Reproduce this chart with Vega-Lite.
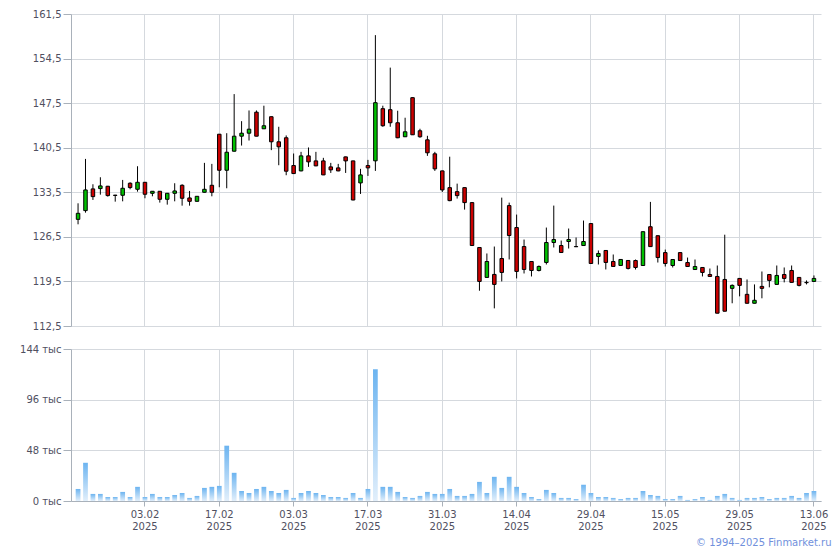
{
  "$schema": "https://vega.github.io/schema/vega-lite/v6.json",
  "background": "white",
  "padding": {"left": 19, "top": 9, "right": 5, "bottom": 5},
  "bounds": "flush",
  "spacing": 23,
  "config": {
    "font": "DejaVu Sans",
    "view": {"stroke": null},
    "axis": {
      "labelFont": "DejaVu Sans",
      "labelFontSize": 10,
      "labelColor": "#50505f",
      "gridColor": "#d5d9de",
      "gridWidth": 1,
      "domainColor": "#a9b1ba",
      "tickColor": "#a9b1ba",
      "title": null
    },
    "axisY": {"tickSize": 8, "labelPadding": 2}
  },
  "data": {
    "values": [
      {"d": "2025-01-21", "o": 129.25, "h": 131.77, "l": 128.47, "c": 130.2, "v": 11.4},
      {"d": "2025-01-22", "o": 130.62, "h": 138.74, "l": 130.3, "c": 133.87, "v": 36.2},
      {"d": "2025-01-23", "o": 134.03, "h": 134.76, "l": 132.3, "c": 132.82, "v": 6.7},
      {"d": "2025-01-24", "o": 134.08, "h": 135.86, "l": 133.13, "c": 134.5, "v": 6.7},
      {"d": "2025-01-27", "o": 134.45, "h": 134.5, "l": 132.82, "c": 132.98, "v": 3.8},
      {"d": "2025-01-28", "o": 133.05, "h": 133.1, "l": 132.03, "c": 133.0, "v": 3.8},
      {"d": "2025-01-29", "o": 133.03, "h": 135.44, "l": 132.08, "c": 134.13, "v": 8.6},
      {"d": "2025-01-30", "o": 134.92, "h": 135.07, "l": 133.97, "c": 134.24, "v": 3.8},
      {"d": "2025-01-31", "o": 133.97, "h": 137.59, "l": 133.6, "c": 135.07, "v": 13.4},
      {"d": "2025-02-03", "o": 135.07, "h": 135.1, "l": 132.56, "c": 133.19, "v": 3.8},
      {"d": "2025-02-04", "o": 133.34, "h": 133.7, "l": 132.87, "c": 133.66, "v": 6.7},
      {"d": "2025-02-05", "o": 133.66, "h": 133.7, "l": 131.88, "c": 132.4, "v": 3.8},
      {"d": "2025-02-06", "o": 132.4, "h": 133.4, "l": 131.56, "c": 133.34, "v": 3.8},
      {"d": "2025-02-07", "o": 133.34, "h": 134.92, "l": 132.08, "c": 133.71, "v": 5.7},
      {"d": "2025-02-10", "o": 134.6, "h": 134.76, "l": 131.4, "c": 132.56, "v": 7.6},
      {"d": "2025-02-11", "o": 132.61, "h": 133.71, "l": 131.4, "c": 132.08, "v": 2.9},
      {"d": "2025-02-12", "o": 132.08, "h": 132.9, "l": 132.05, "c": 132.87, "v": 4.8},
      {"d": "2025-02-13", "o": 133.5, "h": 138.12, "l": 133.45, "c": 133.97, "v": 12.4},
      {"d": "2025-02-14", "o": 134.6, "h": 137.96, "l": 132.87, "c": 133.5, "v": 13.4},
      {"d": "2025-02-17", "o": 142.62, "h": 142.65, "l": 134.29, "c": 136.96, "v": 14.3},
      {"d": "2025-02-18", "o": 136.96, "h": 142.78, "l": 134.13, "c": 139.79, "v": 52.4},
      {"d": "2025-02-19", "o": 139.95, "h": 148.92, "l": 139.9, "c": 142.31, "v": 26.7},
      {"d": "2025-02-20", "o": 142.31, "h": 144.67, "l": 140.84, "c": 142.78, "v": 9.5},
      {"d": "2025-02-21", "o": 142.78, "h": 146.35, "l": 141.63, "c": 143.41, "v": 7.6},
      {"d": "2025-02-24", "o": 146.08, "h": 146.35, "l": 142.3, "c": 142.31, "v": 11.4},
      {"d": "2025-02-25", "o": 143.47, "h": 147.1, "l": 143.45, "c": 143.95, "v": 13.4},
      {"d": "2025-02-26", "o": 145.37, "h": 145.4, "l": 140.12, "c": 141.43, "v": 9.5},
      {"d": "2025-02-27", "o": 141.43, "h": 143.79, "l": 137.75, "c": 140.64, "v": 7.6},
      {"d": "2025-02-28", "o": 142.06, "h": 142.43, "l": 136.18, "c": 136.81, "v": 10.5},
      {"d": "2025-03-03", "o": 137.7, "h": 139.59, "l": 136.4, "c": 136.44, "v": 2.9},
      {"d": "2025-03-04", "o": 136.86, "h": 139.85, "l": 136.8, "c": 139.22, "v": 7.6},
      {"d": "2025-03-05", "o": 139.22, "h": 140.54, "l": 137.49, "c": 138.28, "v": 9.5},
      {"d": "2025-03-06", "o": 138.43, "h": 139.85, "l": 137.6, "c": 137.65, "v": 7.6},
      {"d": "2025-03-07", "o": 138.43, "h": 138.91, "l": 136.2, "c": 136.23, "v": 5.7},
      {"d": "2025-03-10", "o": 137.49, "h": 138.12, "l": 136.54, "c": 137.02, "v": 3.8},
      {"d": "2025-03-11", "o": 137.33, "h": 137.96, "l": 136.8, "c": 136.86, "v": 3.8},
      {"d": "2025-03-12", "o": 139.06, "h": 139.1, "l": 136.54, "c": 138.43, "v": 2.9},
      {"d": "2025-03-13", "o": 138.43, "h": 138.45, "l": 132.25, "c": 132.29, "v": 7.6},
      {"d": "2025-03-14", "o": 134.97, "h": 137.18, "l": 133.24, "c": 136.23, "v": 2.9},
      {"d": "2025-03-17", "o": 137.7, "h": 138.59, "l": 136.07, "c": 137.33, "v": 11.4},
      {"d": "2025-03-18", "o": 138.44, "h": 158.18, "l": 136.86, "c": 147.57, "v": 124.9},
      {"d": "2025-03-19", "o": 146.63, "h": 147.1, "l": 143.79, "c": 143.95, "v": 13.4},
      {"d": "2025-03-20", "o": 146.47, "h": 153.08, "l": 143.79, "c": 144.42, "v": 13.4},
      {"d": "2025-03-21", "o": 144.42, "h": 146.31, "l": 142.0, "c": 142.06, "v": 8.6},
      {"d": "2025-03-24", "o": 142.22, "h": 145.21, "l": 142.2, "c": 143.0, "v": 3.8},
      {"d": "2025-03-25", "o": 148.36, "h": 148.4, "l": 142.5, "c": 142.53, "v": 2.9},
      {"d": "2025-03-26", "o": 143.16, "h": 143.48, "l": 142.06, "c": 142.22, "v": 4.8},
      {"d": "2025-03-27", "o": 141.74, "h": 142.37, "l": 139.22, "c": 139.7, "v": 8.6},
      {"d": "2025-03-28", "o": 139.54, "h": 139.85, "l": 136.86, "c": 137.18, "v": 6.7},
      {"d": "2025-03-31", "o": 136.86, "h": 136.9, "l": 133.55, "c": 133.87, "v": 6.7},
      {"d": "2025-04-01", "o": 134.23, "h": 139.09, "l": 132.1, "c": 132.19, "v": 11.4},
      {"d": "2025-04-02", "o": 133.6, "h": 134.86, "l": 132.51, "c": 132.98, "v": 4.8},
      {"d": "2025-04-03", "o": 134.23, "h": 134.25, "l": 130.78, "c": 131.88, "v": 4.8},
      {"d": "2025-04-04", "o": 131.88, "h": 131.9, "l": 125.1, "c": 125.14, "v": 6.7},
      {"d": "2025-04-07", "o": 124.83, "h": 124.85, "l": 118.04, "c": 119.5, "v": 18.1},
      {"d": "2025-04-08", "o": 120.13, "h": 123.89, "l": 120.1, "c": 122.63, "v": 7.6},
      {"d": "2025-04-09", "o": 120.6, "h": 124.98, "l": 115.27, "c": 119.03, "v": 22.9},
      {"d": "2025-04-10", "o": 123.1, "h": 132.66, "l": 119.5, "c": 120.91, "v": 12.4},
      {"d": "2025-04-11", "o": 131.41, "h": 131.88, "l": 122.95, "c": 126.71, "v": 22.9},
      {"d": "2025-04-14", "o": 127.96, "h": 130.0, "l": 119.97, "c": 121.07, "v": 13.4},
      {"d": "2025-04-15", "o": 124.98, "h": 126.08, "l": 120.75, "c": 121.38, "v": 7.6},
      {"d": "2025-04-16", "o": 122.63, "h": 122.65, "l": 120.28, "c": 121.22, "v": 3.8},
      {"d": "2025-04-17", "o": 121.22, "h": 122.0, "l": 121.07, "c": 121.85, "v": 1.9},
      {"d": "2025-04-18", "o": 122.48, "h": 127.96, "l": 122.16, "c": 125.61, "v": 10.5},
      {"d": "2025-04-21", "o": 125.61, "h": 131.41, "l": 124.83, "c": 126.08, "v": 7.6},
      {"d": "2025-04-22", "o": 125.14, "h": 125.92, "l": 124.0, "c": 124.04, "v": 2.9},
      {"d": "2025-04-23", "o": 125.77, "h": 127.81, "l": 124.67, "c": 126.08, "v": 2.9},
      {"d": "2025-04-24", "o": 124.98, "h": 126.4, "l": 124.9, "c": 124.95, "v": 1.9},
      {"d": "2025-04-25", "o": 125.14, "h": 129.06, "l": 125.1, "c": 125.77, "v": 15.3},
      {"d": "2025-04-29", "o": 128.59, "h": 128.6, "l": 122.3, "c": 122.32, "v": 7.6},
      {"d": "2025-04-30", "o": 123.42, "h": 124.36, "l": 122.16, "c": 123.89, "v": 3.8},
      {"d": "2025-05-02", "o": 124.36, "h": 124.4, "l": 121.38, "c": 122.48, "v": 3.8},
      {"d": "2025-05-05", "o": 122.63, "h": 123.73, "l": 121.8, "c": 121.85, "v": 2.9},
      {"d": "2025-05-06", "o": 122.01, "h": 123.0, "l": 121.95, "c": 122.95, "v": 1.9},
      {"d": "2025-05-07", "o": 122.79, "h": 122.8, "l": 121.38, "c": 121.54, "v": 2.9},
      {"d": "2025-05-08", "o": 122.78, "h": 122.94, "l": 121.37, "c": 121.69, "v": 2.9},
      {"d": "2025-05-12", "o": 122.0, "h": 127.35, "l": 121.95, "c": 127.31, "v": 9.5},
      {"d": "2025-05-13", "o": 128.09, "h": 131.99, "l": 124.95, "c": 124.97, "v": 5.7},
      {"d": "2025-05-14", "o": 126.68, "h": 126.7, "l": 122.47, "c": 123.25, "v": 4.8},
      {"d": "2025-05-15", "o": 124.03, "h": 124.5, "l": 121.84, "c": 122.31, "v": 1.9},
      {"d": "2025-05-16", "o": 122.0, "h": 123.0, "l": 121.69, "c": 122.94, "v": 1.9},
      {"d": "2025-05-19", "o": 124.03, "h": 124.05, "l": 122.75, "c": 122.78, "v": 4.8},
      {"d": "2025-05-20", "o": 122.47, "h": 123.25, "l": 121.8, "c": 121.84, "v": 1.0},
      {"d": "2025-05-21", "o": 121.37, "h": 122.94, "l": 121.35, "c": 121.84, "v": 1.9},
      {"d": "2025-05-22", "o": 121.69, "h": 121.7, "l": 120.28, "c": 120.91, "v": 3.8},
      {"d": "2025-05-23", "o": 120.59, "h": 121.53, "l": 120.25, "c": 120.28, "v": 1.0},
      {"d": "2025-05-26", "o": 120.28, "h": 122.0, "l": 114.5, "c": 114.51, "v": 4.8},
      {"d": "2025-05-27", "o": 119.81, "h": 126.84, "l": 114.8, "c": 114.82, "v": 6.7},
      {"d": "2025-05-28", "o": 118.41, "h": 119.03, "l": 116.07, "c": 118.88, "v": 2.9},
      {"d": "2025-05-29", "o": 119.97, "h": 120.0, "l": 117.16, "c": 118.88, "v": 1.0},
      {"d": "2025-05-30", "o": 117.47, "h": 119.81, "l": 116.05, "c": 116.07, "v": 2.9},
      {"d": "2025-06-02", "o": 116.07, "h": 119.03, "l": 116.05, "c": 116.54, "v": 2.9},
      {"d": "2025-06-03", "o": 118.72, "h": 121.06, "l": 116.85, "c": 118.41, "v": 3.8},
      {"d": "2025-06-04", "o": 120.59, "h": 120.6, "l": 118.57, "c": 119.66, "v": 1.9},
      {"d": "2025-06-05", "o": 119.03, "h": 122.0, "l": 119.0, "c": 120.44, "v": 2.9},
      {"d": "2025-06-06", "o": 120.59, "h": 121.69, "l": 119.35, "c": 119.97, "v": 2.9},
      {"d": "2025-06-09", "o": 121.22, "h": 122.0, "l": 119.3, "c": 119.35, "v": 4.8},
      {"d": "2025-06-10", "o": 120.13, "h": 120.15, "l": 118.72, "c": 118.88, "v": 2.9},
      {"d": "2025-06-11", "o": 119.35, "h": 119.66, "l": 119.03, "c": 119.3, "v": 7.6},
      {"d": "2025-06-13", "o": 119.5, "h": 120.44, "l": 119.45, "c": 119.97, "v": 9.5}
    ]
  },
  "vconcat": [
    {
      "width": 750,
      "height": 312,
      "encoding": {
        "x": {
          "field": "d",
          "type": "ordinal",
          "scale": {"type": "band", "paddingInner": 0.2, "paddingOuter": 0.55},
          "axis": {
            "values": ["2025-02-03", "2025-02-17", "2025-03-03", "2025-03-17", "2025-03-31", "2025-04-14", "2025-04-29", "2025-05-15", "2025-05-29", "2025-06-13"],
            "labels": false,
            "ticks": false,
            "domain": false,
            "grid": true,
            "bandPosition": 0.5,
            "title": null
          }
        }
      },
      "layer": [
        {
          "mark": {"type": "rule", "color": "#000000", "strokeWidth": 1},
          "encoding": {
            "y": {
              "field": "l",
              "type": "quantitative",
              "scale": {"domain": [112.5, 161.5], "nice": false, "zero": false},
              "axis": {
                "values": [112.5, 119.5, 126.5, 133.5, 140.5, 147.5, 154.5, 161.5],
                "labelExpr": "replace(format(datum.value, '.1f'), '.', ',')",
                "title": null
              }
            },
            "y2": {"field": "h"}
          }
        },
        {
          "mark": {"type": "bar", "width": 3.5, "stroke": "#000000", "strokeWidth": 1},
          "encoding": {
            "y": {"field": "o", "type": "quantitative"},
            "y2": {"field": "c"},
            "fill": {
              "condition": {"test": "datum.c > datum.o", "value": "#00c000"},
              "value": "#cc0000"
            }
          }
        }
      ]
    },
    {
      "width": 750,
      "height": 152,
      "mark": {
        "type": "bar",
        "width": {"band": 0.8},
        "color": {
          "gradient": "linear",
          "x1": 0, "y1": 0, "x2": 0, "y2": 1,
          "stops": [
            {"offset": 0, "color": "#6cb4f0"},
            {"offset": 1, "color": "#e2effb"}
          ]
        }
      },
      "encoding": {
        "x": {
          "field": "d",
          "type": "ordinal",
          "scale": {"type": "band", "paddingInner": 0.2, "paddingOuter": 0.55},
          "axis": {
            "values": ["2025-02-03", "2025-02-17", "2025-03-03", "2025-03-17", "2025-03-31", "2025-04-14", "2025-04-29", "2025-05-15", "2025-05-29", "2025-06-13"],
            "labelExpr": "[slice(datum.value, 8, 10) + '.' + slice(datum.value, 5, 7), slice(datum.value, 0, 4)]",
            "labelAngle": 0,
            "labelLineHeight": 12,
            "labelPadding": 3.5,
            "tickSize": 5,
            "grid": true,
            "bandPosition": 0.5,
            "title": "© 1994–2025 Finmarket.ru",
            "titleFont": "DejaVu Sans",
            "titleFontSize": 10,
            "titleFontWeight": "normal",
            "titleColor": "#7090dc",
            "titleX": 760,
            "titleY": 44.5,
            "titleAlign": "right",
            "titleBaseline": "alphabetic"
          }
        },
        "y": {
          "field": "v",
          "type": "quantitative",
          "scale": {"domain": [0, 144], "nice": false},
          "axis": {
            "values": [0, 48, 96, 144],
            "labelExpr": "datum.value + ' тыс'",
            "title": null
          }
        }
      }
    }
  ]
}
